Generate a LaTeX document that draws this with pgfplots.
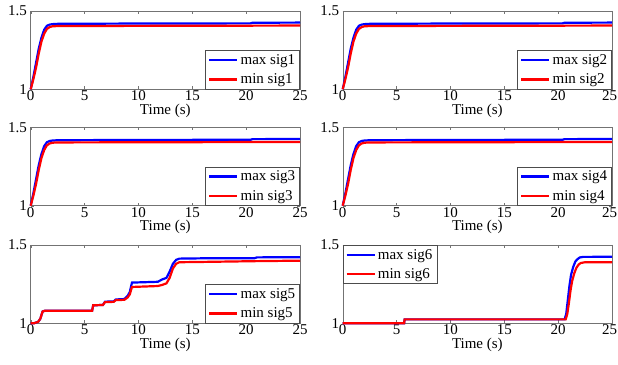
\documentclass[border=0pt]{standalone}
\usepackage{fontspec}
\setmainfont{Liberation Serif}
\usepackage{pgfplots}
\pgfplotsset{compat=1.18}
\usepackage{pgfplotstable}

\pgfplotstableread{
t y
0 1.0
0.25 1.08
0.5 1.17
0.75 1.26
1.0 1.33
1.25 1.38
1.5 1.405
1.75 1.413
2.0 1.416
2.5 1.418
10 1.42
20.4 1.421
20.6 1.425
25 1.426
}\maxA
\pgfplotstableread{
t y
0 1.0
0.25 1.065
0.5 1.14
0.75 1.23
1.0 1.305
1.25 1.355
1.5 1.385
1.75 1.397
2.0 1.402
2.5 1.404
25 1.407
}\minA
\pgfplotstableread{
t y
0 1.0
0.3 1.0
0.7 1.01
0.9 1.03
1.1 1.075
1.3 1.08
5.7 1.08
5.8 1.115
6.7 1.117
6.9 1.138
7.7 1.14
7.9 1.152
8.7 1.155
9.0 1.175
9.2 1.20
9.4 1.26
11.8 1.265
12.2 1.28
12.6 1.29
12.9 1.33
13.2 1.38
13.5 1.405
13.8 1.413
16 1.415
20.8 1.416
21 1.421
25 1.422
}\maxE
\pgfplotstableread{
t y
0 1.0
0.3 1.0
0.7 1.01
0.9 1.03
1.1 1.075
1.3 1.08
5.7 1.08
5.8 1.115
6.7 1.117
6.9 1.135
7.7 1.137
7.9 1.148
8.7 1.15
9.0 1.165
9.2 1.185
9.4 1.232
11.8 1.238
12.2 1.245
12.6 1.255
12.9 1.29
13.2 1.35
13.5 1.38
13.8 1.39
16 1.392
21 1.397
25 1.40
}\minE
\pgfplotstableread{
t y
0 1.0
5.7 1.0
5.75 1.025
20.6 1.025
20.75 1.06
20.9 1.15
21.05 1.24
21.2 1.31
21.4 1.36
21.6 1.395
21.8 1.41
22.0 1.42
22.3 1.424
25 1.425
}\maxF
\pgfplotstableread{
t y
0 1.0
5.7 1.0
5.75 1.025
20.7 1.025
20.85 1.06
21.0 1.13
21.15 1.21
21.3 1.27
21.5 1.32
21.7 1.355
21.9 1.375
22.1 1.385
22.5 1.39
25 1.39
}\minF

\pgfplotsset{
  sigstyle/.style={
    scale only axis, width=269.3pt, height=78.3pt,
    xmin=0, xmax=25, ymin=1, ymax=1.5,
    xtick={0,5,...,25}, ytick={1,1.5},
    tick align=inside, major tick length=3pt,
    axis line style={black!55}, major tick style={black!55},
    /pgf/number format/assume math mode=true,
    tick label style={font=\fontsize{15}{17}\selectfont},
    xticklabel style={inner sep=1.5pt},
    yticklabel style={inner sep=3.5pt},
    xlabel={Time (s)},
    xlabel style={font=\fontsize{15}{17}\selectfont, inner sep=0pt, yshift=-1pt},
    clip=false,
    legend cell align=left,
    legend style={at={(1,0)}, anchor=south east, draw=black!70, line width=0.6pt,
      fill=white, font=\fontsize{15}{17}\selectfont,
      inner xsep=2.5pt, inner ysep=1.8pt, row sep=3.8pt,
      nodes={inner sep=2pt}},
    legend image code/.code={\draw[#1, line width=2.4pt] (0pt,0pt) -- (28pt,0pt);},
    every axis plot/.append style={line width=2.2pt},
  },
  rightcol/.style={
    xticklabel style={xshift={ifthenelse(\ticknum==5,-2.5,0)*1pt}},
  },
}

\begin{document}
\begin{tikzpicture}
\useasboundingbox (0,0) rectangle (618pt,364pt);
% row 1
\begin{axis}[sigstyle, at={(30.7pt,274.7pt)}, anchor=south west]
\addplot[blue] table {\maxA}; \addlegendentry{max sig1}
\addplot[red] table {\minA}; \addlegendentry{min sig1}
\end{axis}
\begin{axis}[sigstyle, rightcol, at={(342.7pt,274.7pt)}, anchor=south west]
\addplot[blue] table {\maxA}; \addlegendentry{max sig2}
\addplot[red] table {\minA}; \addlegendentry{min sig2}
\end{axis}
% row 2
\begin{axis}[sigstyle, at={(30.7pt,158.3pt)}, anchor=south west]
\addplot[blue] table {\maxA}; \addlegendentry{max sig3}
\addplot[red] table {\minA}; \addlegendentry{min sig3}
\end{axis}
\begin{axis}[sigstyle, rightcol, at={(342.7pt,158.3pt)}, anchor=south west]
\addplot[blue] table {\maxA}; \addlegendentry{max sig4}
\addplot[red] table {\minA}; \addlegendentry{min sig4}
\end{axis}
% row 3
\begin{axis}[sigstyle, at={(30.7pt,40.7pt)}, anchor=south west]
\addplot[blue] table {\maxE}; \addlegendentry{max sig5}
\addplot[red] table {\minE}; \addlegendentry{min sig5}
\end{axis}
\begin{axis}[sigstyle, rightcol, at={(342.7pt,40.7pt)}, anchor=south west,
  legend style={at={(0,1)}, anchor=north west}]
\addplot[blue] table {\maxF}; \addlegendentry{max sig6}
\addplot[red] table {\minF}; \addlegendentry{min sig6}
\end{axis}
\end{tikzpicture}
\end{document}
